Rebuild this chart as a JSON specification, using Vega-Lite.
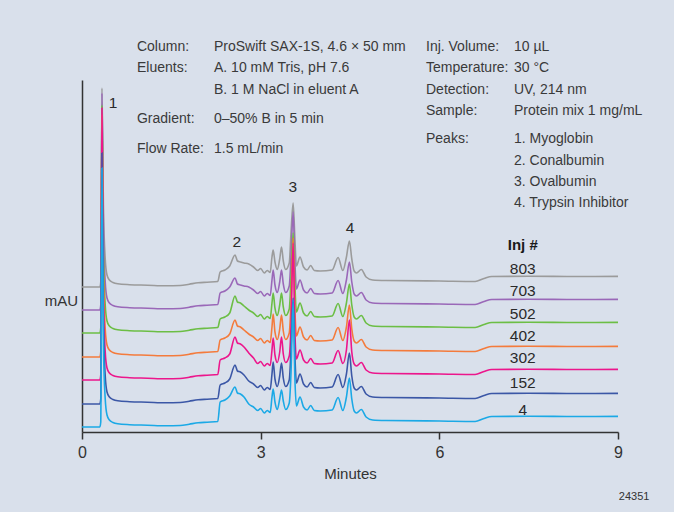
{
"$schema":"https://vega.github.io/schema/vega-lite/v6.json",
"width":536,"height":352,
"autosize":{"type":"none"},
"padding":{"left":82,"top":80,"right":56,"bottom":80},
"background":"#d9e0eb",
"config":{"view":{"stroke":null},"font":"Liberation Sans, Arial, sans-serif"},
"datasets":{
"traces":[
{"s":"803","t":0,"v":145},{"s":"803","t":0.3,"v":145},{"s":"803","t":0.315,"v":150},{"s":"803","t":0.335,"v":344},{"s":"803","t":0.36,"v":225},{"s":"803","t":0.39,"v":173},{"s":"803","t":0.42,"v":157},{"s":"803","t":0.46,"v":152},{"s":"803","t":0.52,"v":149.5},{"s":"803","t":0.6,"v":148.2},{"s":"803","t":0.8,"v":147.3},{"s":"803","t":1.1,"v":146.8},{"s":"803","t":1.4,"v":146.2},{"s":"803","t":1.65,"v":146.5},{"s":"803","t":1.8,"v":147.8},{"s":"803","t":1.95,"v":149.2},{"s":"803","t":2.1,"v":149.8},{"s":"803","t":2.28,"v":150.5},{"s":"803","t":2.32,"v":160},{"s":"803","t":2.4,"v":162},{"s":"803","t":2.48,"v":166},{"s":"803","t":2.57,"v":177},{"s":"803","t":2.61,"v":171},{"s":"803","t":2.66,"v":170},{"s":"803","t":2.72,"v":169},{"s":"803","t":2.8,"v":168},{"s":"803","t":2.88,"v":165},{"s":"803","t":2.95,"v":161.5},{"s":"803","t":3.0,"v":163.5},{"s":"803","t":3.06,"v":159},{"s":"803","t":3.11,"v":161.5},{"s":"803","t":3.16,"v":159.5},{"s":"803","t":3.19,"v":175},{"s":"803","t":3.21,"v":182},{"s":"803","t":3.24,"v":170},{"s":"803","t":3.28,"v":162.5},{"s":"803","t":3.32,"v":173},{"s":"803","t":3.35,"v":185},{"s":"803","t":3.38,"v":171},{"s":"803","t":3.42,"v":162.5},{"s":"803","t":3.48,"v":169},{"s":"803","t":3.51,"v":200},{"s":"803","t":3.545,"v":229},{"s":"803","t":3.575,"v":193},{"s":"803","t":3.6,"v":166},{"s":"803","t":3.66,"v":175},{"s":"803","t":3.72,"v":165},{"s":"803","t":3.78,"v":162},{"s":"803","t":3.84,"v":166.5},{"s":"803","t":3.9,"v":161.5},{"s":"803","t":4.0,"v":161},{"s":"803","t":4.2,"v":162},{"s":"803","t":4.3,"v":174.5},{"s":"803","t":4.38,"v":161.5},{"s":"803","t":4.44,"v":175},{"s":"803","t":4.49,"v":191},{"s":"803","t":4.53,"v":173},{"s":"803","t":4.57,"v":161},{"s":"803","t":4.61,"v":159},{"s":"803","t":4.69,"v":162.5},{"s":"803","t":4.77,"v":155},{"s":"803","t":4.88,"v":152},{"s":"803","t":5.1,"v":151.5},{"s":"803","t":6.0,"v":151},{"s":"803","t":6.6,"v":150.5},{"s":"803","t":6.75,"v":153.5},{"s":"803","t":6.88,"v":155.5},{"s":"803","t":7.5,"v":155.8},{"s":"803","t":8.2,"v":155.5},{"s":"803","t":9.0,"v":155.6},
{"s":"703","t":0,"v":122},{"s":"703","t":0.3,"v":122},{"s":"703","t":0.315,"v":127},{"s":"703","t":0.335,"v":339},{"s":"703","t":0.36,"v":202},{"s":"703","t":0.39,"v":150},{"s":"703","t":0.42,"v":134},{"s":"703","t":0.46,"v":129},{"s":"703","t":0.52,"v":126.5},{"s":"703","t":0.6,"v":125.2},{"s":"703","t":0.8,"v":124.3},{"s":"703","t":1.1,"v":123.8},{"s":"703","t":1.4,"v":123.2},{"s":"703","t":1.65,"v":123.5},{"s":"703","t":1.8,"v":124.8},{"s":"703","t":1.95,"v":126.2},{"s":"703","t":2.1,"v":126.8},{"s":"703","t":2.28,"v":127.5},{"s":"703","t":2.32,"v":139},{"s":"703","t":2.4,"v":141},{"s":"703","t":2.48,"v":145},{"s":"703","t":2.57,"v":154},{"s":"703","t":2.61,"v":148},{"s":"703","t":2.66,"v":147},{"s":"703","t":2.72,"v":146},{"s":"703","t":2.8,"v":145},{"s":"703","t":2.88,"v":142},{"s":"703","t":2.95,"v":138.5},{"s":"703","t":3.0,"v":140.5},{"s":"703","t":3.06,"v":136},{"s":"703","t":3.11,"v":138.5},{"s":"703","t":3.16,"v":136.5},{"s":"703","t":3.19,"v":152},{"s":"703","t":3.21,"v":162},{"s":"703","t":3.24,"v":147},{"s":"703","t":3.28,"v":139.5},{"s":"703","t":3.32,"v":150},{"s":"703","t":3.35,"v":162},{"s":"703","t":3.38,"v":148},{"s":"703","t":3.42,"v":139.5},{"s":"703","t":3.48,"v":146},{"s":"703","t":3.51,"v":177},{"s":"703","t":3.545,"v":220},{"s":"703","t":3.575,"v":170},{"s":"703","t":3.6,"v":143},{"s":"703","t":3.66,"v":152},{"s":"703","t":3.72,"v":142},{"s":"703","t":3.78,"v":139},{"s":"703","t":3.84,"v":143.5},{"s":"703","t":3.9,"v":138.5},{"s":"703","t":4.0,"v":138},{"s":"703","t":4.2,"v":139},{"s":"703","t":4.3,"v":151.5},{"s":"703","t":4.38,"v":138.5},{"s":"703","t":4.44,"v":152},{"s":"703","t":4.49,"v":170},{"s":"703","t":4.53,"v":150},{"s":"703","t":4.57,"v":138},{"s":"703","t":4.61,"v":136},{"s":"703","t":4.69,"v":139.5},{"s":"703","t":4.77,"v":132},{"s":"703","t":4.88,"v":129},{"s":"703","t":5.1,"v":128.5},{"s":"703","t":6.0,"v":128},{"s":"703","t":6.6,"v":127.5},{"s":"703","t":6.75,"v":130.5},{"s":"703","t":6.88,"v":132.5},{"s":"703","t":7.5,"v":132.8},{"s":"703","t":8.2,"v":132.5},{"s":"703","t":9.0,"v":132.6},
{"s":"502","t":0,"v":99},{"s":"502","t":0.3,"v":99},{"s":"502","t":0.315,"v":104},{"s":"502","t":0.335,"v":327},{"s":"502","t":0.36,"v":179},{"s":"502","t":0.39,"v":127},{"s":"502","t":0.42,"v":111},{"s":"502","t":0.46,"v":106},{"s":"502","t":0.52,"v":103.5},{"s":"502","t":0.6,"v":102.2},{"s":"502","t":0.8,"v":101.3},{"s":"502","t":1.1,"v":100.8},{"s":"502","t":1.4,"v":100.2},{"s":"502","t":1.65,"v":100.5},{"s":"502","t":1.8,"v":101.8},{"s":"502","t":1.95,"v":103.2},{"s":"502","t":2.1,"v":103.8},{"s":"502","t":2.28,"v":104.5},{"s":"502","t":2.32,"v":113},{"s":"502","t":2.4,"v":115},{"s":"502","t":2.48,"v":119},{"s":"502","t":2.57,"v":136},{"s":"502","t":2.61,"v":130},{"s":"502","t":2.66,"v":129},{"s":"502","t":2.72,"v":126},{"s":"502","t":2.8,"v":122},{"s":"502","t":2.88,"v":119},{"s":"502","t":2.95,"v":115.5},{"s":"502","t":3.0,"v":117.5},{"s":"502","t":3.06,"v":113},{"s":"502","t":3.11,"v":115.5},{"s":"502","t":3.16,"v":113.5},{"s":"502","t":3.19,"v":129},{"s":"502","t":3.21,"v":139},{"s":"502","t":3.24,"v":124},{"s":"502","t":3.28,"v":116.5},{"s":"502","t":3.32,"v":127},{"s":"502","t":3.35,"v":139},{"s":"502","t":3.38,"v":125},{"s":"502","t":3.42,"v":116.5},{"s":"502","t":3.48,"v":123},{"s":"502","t":3.51,"v":154},{"s":"502","t":3.545,"v":199},{"s":"502","t":3.575,"v":147},{"s":"502","t":3.6,"v":120},{"s":"502","t":3.66,"v":129},{"s":"502","t":3.72,"v":119},{"s":"502","t":3.78,"v":116},{"s":"502","t":3.84,"v":120.5},{"s":"502","t":3.9,"v":115.5},{"s":"502","t":4.0,"v":115},{"s":"502","t":4.2,"v":116},{"s":"502","t":4.3,"v":128.5},{"s":"502","t":4.38,"v":115.5},{"s":"502","t":4.44,"v":129},{"s":"502","t":4.49,"v":148},{"s":"502","t":4.53,"v":127},{"s":"502","t":4.57,"v":115},{"s":"502","t":4.61,"v":113},{"s":"502","t":4.69,"v":116.5},{"s":"502","t":4.77,"v":109},{"s":"502","t":4.88,"v":106},{"s":"502","t":5.1,"v":105.5},{"s":"502","t":6.0,"v":105},{"s":"502","t":6.6,"v":104.5},{"s":"502","t":6.75,"v":107.5},{"s":"502","t":6.88,"v":109.5},{"s":"502","t":7.5,"v":109.8},{"s":"502","t":8.2,"v":109.5},{"s":"502","t":9.0,"v":109.6},
{"s":"402","t":0,"v":75},{"s":"402","t":0.3,"v":75},{"s":"402","t":0.315,"v":80},{"s":"402","t":0.335,"v":317},{"s":"402","t":0.36,"v":155},{"s":"402","t":0.39,"v":103},{"s":"402","t":0.42,"v":87},{"s":"402","t":0.46,"v":82},{"s":"402","t":0.52,"v":79.5},{"s":"402","t":0.6,"v":78.2},{"s":"402","t":0.8,"v":77.3},{"s":"402","t":1.1,"v":76.8},{"s":"402","t":1.4,"v":76.2},{"s":"402","t":1.65,"v":76.5},{"s":"402","t":1.8,"v":77.8},{"s":"402","t":1.95,"v":79.2},{"s":"402","t":2.1,"v":79.8},{"s":"402","t":2.28,"v":80.5},{"s":"402","t":2.32,"v":92},{"s":"402","t":2.4,"v":94},{"s":"402","t":2.48,"v":98},{"s":"402","t":2.57,"v":112},{"s":"402","t":2.61,"v":106},{"s":"402","t":2.66,"v":105},{"s":"402","t":2.72,"v":102},{"s":"402","t":2.8,"v":98},{"s":"402","t":2.88,"v":95},{"s":"402","t":2.95,"v":91.5},{"s":"402","t":3.0,"v":93.5},{"s":"402","t":3.06,"v":89},{"s":"402","t":3.11,"v":91.5},{"s":"402","t":3.16,"v":89.5},{"s":"402","t":3.19,"v":105},{"s":"402","t":3.21,"v":118},{"s":"402","t":3.24,"v":100},{"s":"402","t":3.28,"v":92.5},{"s":"402","t":3.32,"v":103},{"s":"402","t":3.35,"v":117},{"s":"402","t":3.38,"v":101},{"s":"402","t":3.42,"v":92.5},{"s":"402","t":3.48,"v":99},{"s":"402","t":3.51,"v":130},{"s":"402","t":3.545,"v":194},{"s":"402","t":3.575,"v":123},{"s":"402","t":3.6,"v":96},{"s":"402","t":3.66,"v":105},{"s":"402","t":3.72,"v":95},{"s":"402","t":3.78,"v":92},{"s":"402","t":3.84,"v":96.5},{"s":"402","t":3.9,"v":91.5},{"s":"402","t":4.0,"v":91},{"s":"402","t":4.2,"v":92},{"s":"402","t":4.3,"v":104.5},{"s":"402","t":4.38,"v":91.5},{"s":"402","t":4.44,"v":105},{"s":"402","t":4.49,"v":127},{"s":"402","t":4.53,"v":103},{"s":"402","t":4.57,"v":91},{"s":"402","t":4.61,"v":89},{"s":"402","t":4.69,"v":92.5},{"s":"402","t":4.77,"v":85},{"s":"402","t":4.88,"v":82},{"s":"402","t":5.1,"v":81.5},{"s":"402","t":6.0,"v":81},{"s":"402","t":6.6,"v":80.5},{"s":"402","t":6.75,"v":83.5},{"s":"402","t":6.88,"v":85.5},{"s":"402","t":7.5,"v":85.8},{"s":"402","t":8.2,"v":85.5},{"s":"402","t":9.0,"v":85.6},
{"s":"302","t":0,"v":52},{"s":"302","t":0.3,"v":52},{"s":"302","t":0.315,"v":57},{"s":"302","t":0.335,"v":324},{"s":"302","t":0.36,"v":132},{"s":"302","t":0.39,"v":80},{"s":"302","t":0.42,"v":64},{"s":"302","t":0.46,"v":59},{"s":"302","t":0.52,"v":56.5},{"s":"302","t":0.6,"v":55.2},{"s":"302","t":0.8,"v":54.3},{"s":"302","t":1.1,"v":53.8},{"s":"302","t":1.4,"v":53.2},{"s":"302","t":1.65,"v":53.5},{"s":"302","t":1.8,"v":54.8},{"s":"302","t":1.95,"v":56.2},{"s":"302","t":2.1,"v":56.8},{"s":"302","t":2.28,"v":57.5},{"s":"302","t":2.32,"v":72},{"s":"302","t":2.4,"v":74},{"s":"302","t":2.48,"v":78},{"s":"302","t":2.57,"v":95},{"s":"302","t":2.61,"v":89},{"s":"302","t":2.66,"v":88},{"s":"302","t":2.72,"v":85},{"s":"302","t":2.8,"v":79},{"s":"302","t":2.88,"v":74},{"s":"302","t":2.95,"v":68.5},{"s":"302","t":3.0,"v":70.5},{"s":"302","t":3.06,"v":66},{"s":"302","t":3.11,"v":68.5},{"s":"302","t":3.16,"v":66.5},{"s":"302","t":3.19,"v":82},{"s":"302","t":3.21,"v":94},{"s":"302","t":3.24,"v":77},{"s":"302","t":3.28,"v":69.5},{"s":"302","t":3.32,"v":80},{"s":"302","t":3.35,"v":95},{"s":"302","t":3.38,"v":78},{"s":"302","t":3.42,"v":69.5},{"s":"302","t":3.48,"v":76},{"s":"302","t":3.51,"v":107},{"s":"302","t":3.545,"v":189},{"s":"302","t":3.575,"v":100},{"s":"302","t":3.6,"v":73},{"s":"302","t":3.66,"v":82},{"s":"302","t":3.72,"v":72},{"s":"302","t":3.78,"v":69},{"s":"302","t":3.84,"v":73.5},{"s":"302","t":3.9,"v":68.5},{"s":"302","t":4.0,"v":68},{"s":"302","t":4.2,"v":69},{"s":"302","t":4.3,"v":81.5},{"s":"302","t":4.38,"v":68.5},{"s":"302","t":4.44,"v":82},{"s":"302","t":4.49,"v":112},{"s":"302","t":4.53,"v":80},{"s":"302","t":4.57,"v":68},{"s":"302","t":4.61,"v":66},{"s":"302","t":4.69,"v":69.5},{"s":"302","t":4.77,"v":62},{"s":"302","t":4.88,"v":59},{"s":"302","t":5.1,"v":58.5},{"s":"302","t":6.0,"v":58},{"s":"302","t":6.6,"v":57.5},{"s":"302","t":6.75,"v":60.5},{"s":"302","t":6.88,"v":62.5},{"s":"302","t":7.5,"v":62.8},{"s":"302","t":8.2,"v":62.5},{"s":"302","t":9.0,"v":62.6},
{"s":"152","t":0,"v":28},{"s":"152","t":0.3,"v":28},{"s":"152","t":0.315,"v":33},{"s":"152","t":0.335,"v":279},{"s":"152","t":0.36,"v":108},{"s":"152","t":0.39,"v":56},{"s":"152","t":0.42,"v":40},{"s":"152","t":0.46,"v":35},{"s":"152","t":0.52,"v":32.5},{"s":"152","t":0.6,"v":31.2},{"s":"152","t":0.8,"v":30.3},{"s":"152","t":1.1,"v":29.8},{"s":"152","t":1.4,"v":29.2},{"s":"152","t":1.65,"v":29.5},{"s":"152","t":1.8,"v":30.8},{"s":"152","t":1.95,"v":32.2},{"s":"152","t":2.1,"v":32.8},{"s":"152","t":2.28,"v":33.5},{"s":"152","t":2.32,"v":47},{"s":"152","t":2.4,"v":49},{"s":"152","t":2.48,"v":53},{"s":"152","t":2.57,"v":67},{"s":"152","t":2.61,"v":61},{"s":"152","t":2.66,"v":60},{"s":"152","t":2.72,"v":57},{"s":"152","t":2.8,"v":51},{"s":"152","t":2.88,"v":48},{"s":"152","t":2.95,"v":44.5},{"s":"152","t":3.0,"v":46.5},{"s":"152","t":3.06,"v":42},{"s":"152","t":3.11,"v":44.5},{"s":"152","t":3.16,"v":42.5},{"s":"152","t":3.19,"v":58},{"s":"152","t":3.21,"v":70},{"s":"152","t":3.24,"v":53},{"s":"152","t":3.28,"v":45.5},{"s":"152","t":3.32,"v":56},{"s":"152","t":3.35,"v":69},{"s":"152","t":3.38,"v":54},{"s":"152","t":3.42,"v":45.5},{"s":"152","t":3.48,"v":52},{"s":"152","t":3.51,"v":83},{"s":"152","t":3.545,"v":134},{"s":"152","t":3.575,"v":76},{"s":"152","t":3.6,"v":49},{"s":"152","t":3.66,"v":58},{"s":"152","t":3.72,"v":48},{"s":"152","t":3.78,"v":45},{"s":"152","t":3.84,"v":49.5},{"s":"152","t":3.9,"v":44.5},{"s":"152","t":4.0,"v":44},{"s":"152","t":4.2,"v":45},{"s":"152","t":4.3,"v":57.5},{"s":"152","t":4.38,"v":44.5},{"s":"152","t":4.44,"v":58},{"s":"152","t":4.49,"v":79},{"s":"152","t":4.53,"v":56},{"s":"152","t":4.57,"v":44},{"s":"152","t":4.61,"v":42},{"s":"152","t":4.69,"v":45.5},{"s":"152","t":4.77,"v":38},{"s":"152","t":4.88,"v":35},{"s":"152","t":5.1,"v":34.5},{"s":"152","t":6.0,"v":34},{"s":"152","t":6.6,"v":33.5},{"s":"152","t":6.75,"v":36.5},{"s":"152","t":6.88,"v":38.5},{"s":"152","t":7.5,"v":38.8},{"s":"152","t":8.2,"v":38.5},{"s":"152","t":9.0,"v":38.6},
{"s":"4","t":0,"v":5},{"s":"4","t":0.3,"v":5},{"s":"4","t":0.315,"v":10},{"s":"4","t":0.335,"v":264},{"s":"4","t":0.36,"v":85},{"s":"4","t":0.39,"v":33},{"s":"4","t":0.42,"v":17},{"s":"4","t":0.46,"v":12},{"s":"4","t":0.52,"v":9.5},{"s":"4","t":0.6,"v":8.2},{"s":"4","t":0.8,"v":7.3},{"s":"4","t":1.1,"v":6.8},{"s":"4","t":1.4,"v":6.2},{"s":"4","t":1.65,"v":6.5},{"s":"4","t":1.8,"v":7.8},{"s":"4","t":1.95,"v":9.2},{"s":"4","t":2.1,"v":9.8},{"s":"4","t":2.28,"v":10.5},{"s":"4","t":2.32,"v":30},{"s":"4","t":2.4,"v":32},{"s":"4","t":2.48,"v":36},{"s":"4","t":2.57,"v":45},{"s":"4","t":2.61,"v":39},{"s":"4","t":2.66,"v":38},{"s":"4","t":2.72,"v":35},{"s":"4","t":2.8,"v":28},{"s":"4","t":2.88,"v":25},{"s":"4","t":2.95,"v":21.5},{"s":"4","t":3.0,"v":23.5},{"s":"4","t":3.06,"v":19},{"s":"4","t":3.11,"v":21.5},{"s":"4","t":3.16,"v":19.5},{"s":"4","t":3.19,"v":35},{"s":"4","t":3.21,"v":43},{"s":"4","t":3.24,"v":30},{"s":"4","t":3.28,"v":22.5},{"s":"4","t":3.32,"v":33},{"s":"4","t":3.35,"v":42},{"s":"4","t":3.38,"v":31},{"s":"4","t":3.42,"v":22.5},{"s":"4","t":3.48,"v":29},{"s":"4","t":3.51,"v":60},{"s":"4","t":3.545,"v":132},{"s":"4","t":3.575,"v":53},{"s":"4","t":3.6,"v":26},{"s":"4","t":3.66,"v":35},{"s":"4","t":3.72,"v":25},{"s":"4","t":3.78,"v":22},{"s":"4","t":3.84,"v":26.5},{"s":"4","t":3.9,"v":21.5},{"s":"4","t":4.0,"v":21},{"s":"4","t":4.2,"v":22},{"s":"4","t":4.3,"v":34.5},{"s":"4","t":4.38,"v":21.5},{"s":"4","t":4.44,"v":35},{"s":"4","t":4.49,"v":54},{"s":"4","t":4.53,"v":33},{"s":"4","t":4.57,"v":21},{"s":"4","t":4.61,"v":19},{"s":"4","t":4.69,"v":22.5},{"s":"4","t":4.77,"v":15},{"s":"4","t":4.88,"v":12},{"s":"4","t":5.1,"v":11.5},{"s":"4","t":6.0,"v":11},{"s":"4","t":6.6,"v":10.5},{"s":"4","t":6.75,"v":13.5},{"s":"4","t":6.88,"v":15.5},{"s":"4","t":7.5,"v":15.8},{"s":"4","t":8.2,"v":15.5},{"s":"4","t":9.0,"v":15.6}
],
"info":[
{"x":0.923,"y":385,"label":"Column:"},
{"x":0.923,"y":364,"label":"Eluents:"},
{"x":0.923,"y":313,"label":"Gradient:"},
{"x":0.923,"y":283,"label":"Flow Rate:"},
{"x":2.216,"y":385,"label":"ProSwift SAX-1S, 4.6 × 50 mm"},
{"x":2.216,"y":364,"label":"A. 10 mM Tris, pH 7.6"},
{"x":2.216,"y":342,"label":"B. 1 M NaCl in eluent A"},
{"x":2.216,"y":313,"label":"0–50% B in 5 min"},
{"x":2.216,"y":283,"label":"1.5 mL/min"},
{"x":5.776,"y":385,"label":"Inj. Volume:"},
{"x":5.776,"y":364,"label":"Temperature:"},
{"x":5.776,"y":342,"label":"Detection:"},
{"x":5.776,"y":321,"label":"Sample:"},
{"x":5.776,"y":293,"label":"Peaks:"},
{"x":7.253,"y":385,"label":"10 µL"},
{"x":7.253,"y":364,"label":"30 °C"},
{"x":7.253,"y":342,"label":"UV, 214 nm"},
{"x":7.253,"y":321,"label":"Protein mix 1 mg/mL"},
{"x":7.253,"y":293,"label":"1. Myoglobin"},
{"x":7.253,"y":271,"label":"2. Conalbumin"},
{"x":7.253,"y":250,"label":"3. Ovalbumin"},
{"x":7.253,"y":229,"label":"4. Trypsin Inhibitor"}
],
"marks":[
{"x":0.52,"y":329,"label":"1"},
{"x":2.6,"y":190,"label":"2"},
{"x":3.54,"y":245,"label":"3"},
{"x":4.5,"y":204,"label":"4"},
{"x":7.4,"y":163,"label":"803"},
{"x":7.4,"y":141,"label":"703"},
{"x":7.4,"y":118,"label":"502"},
{"x":7.4,"y":96,"label":"402"},
{"x":7.4,"y":74,"label":"302"},
{"x":7.4,"y":49,"label":"152"},
{"x":7.4,"y":22,"label":"4"}
],
"head":[{"x":7.4,"y":187,"label":"Inj #"}],
"code":[{"x":9.27,"y":-65,"label":"24351"}]
},
"layer":[
{"data":{"name":"traces"},
 "mark":{"type":"line","strokeWidth":1.6,"interpolate":"monotone"},
 "encoding":{
  "x":{"field":"t","type":"quantitative","scale":{"domain":[0,9],"nice":false},
   "axis":{"values":[0,3,6,9],"format":"d","title":"Minutes","grid":false,"domainColor":"#333333","domainWidth":1.5,"tickColor":"#333333","tickWidth":1.5,"tickSize":7,"labelFontSize":16,"labelColor":"#333333","labelPadding":5,"labelFlush":false,"titleFontSize":15,"titleFontWeight":"normal","titleColor":"#333333","titlePadding":6}},
  "y":{"field":"v","type":"quantitative","scale":{"domain":[0,352],"nice":false},
   "axis":{"title":"mAU","ticks":false,"labels":false,"grid":false,"domainColor":"#333333","domainWidth":1.5,"titleAngle":0,"titleX":-21,"titleY":220,"titleAlign":"center","titleBaseline":"middle","titleFontSize":15,"titleFontWeight":"normal","titleColor":"#333333"}},
  "color":{"field":"s","type":"nominal","legend":null,
   "scale":{"domain":["803","703","502","402","302","152","4"],"range":["#9b9b9b","#9a68b8","#6cbe45","#f47b3c","#ec168c","#3b57a6","#1ba9e6"]}}
 }},
{"data":{"name":"info"},
 "mark":{"type":"text","align":"left","baseline":"middle","fontSize":14,"color":"#3a3a3a"},
 "encoding":{"x":{"field":"x","type":"quantitative"},"y":{"field":"y","type":"quantitative"},"text":{"field":"label"}}},
{"data":{"name":"marks"},
 "mark":{"type":"text","align":"center","baseline":"middle","fontSize":15.5,"color":"#2a2a2a"},
 "encoding":{"x":{"field":"x","type":"quantitative"},"y":{"field":"y","type":"quantitative"},"text":{"field":"label"}}},
{"data":{"name":"head"},
 "mark":{"type":"text","align":"center","baseline":"middle","fontSize":15,"fontWeight":"bold","color":"#1a1a1a"},
 "encoding":{"x":{"field":"x","type":"quantitative"},"y":{"field":"y","type":"quantitative"},"text":{"field":"label"}}},
{"data":{"name":"code"},
 "mark":{"type":"text","align":"center","baseline":"middle","fontSize":11,"color":"#333333"},
 "encoding":{"x":{"field":"x","type":"quantitative"},"y":{"field":"y","type":"quantitative"},"text":{"field":"label"}}}
]
}
